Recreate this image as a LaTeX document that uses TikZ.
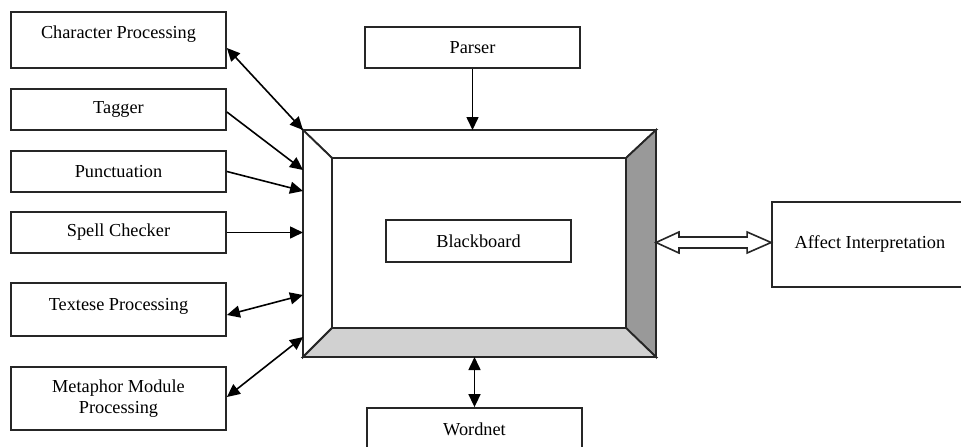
\documentclass[tikz,border=0pt]{standalone}
\usepackage{fontspec}
\setmainfont{Liberation Serif}
\usetikzlibrary{arrows.meta,calc}
\begin{document}
\begin{tikzpicture}[x=1pt,y=1pt,
  box/.style={draw=black!85, line width=1.8pt, minimum width=215, inner sep=0pt, align=center, font=\fontsize{18.3}{21}\selectfont, fill=white},
  conn/.style={line width=1.6pt, draw=black},
  tip/.style={-{Triangle[length=13pt,width=12pt]}},
  dtip/.style={{Triangle[length=13pt,width=12pt]}-{Triangle[length=13pt,width=12pt]}},
  bevel/.style={draw=black!85, line width=1.8pt, line join=miter}]
\useasboundingbox (0,0) rectangle (961,-447);
\clip (0,0) rectangle (961,-447);
\fill[white] (0,0) rectangle (961,-447);

% left column
\node[box, minimum height=56, text height=13, text depth=17] (cp) at (118.5,-40) {Character Processing};
\node[box, minimum height=41] (tg) at (118.5,-109.5) {Tagger};
\node[box, minimum height=41] (pu) at (118.5,-171.5) {Punctuation};
\node[box, minimum height=41] (sc) at (118.5,-232.5) {Spell Checker};
\node[box, minimum height=53, text height=13, text depth=12] (te) at (118.5,-309.5) {Textese Processing};
\node[box, minimum height=63] (mm) at (118.5,-398.5) {Metaphor Module\\Processing};

% top / bottom / right
\node[box, minimum height=41] (pa) at (472.5,-47.5) {Parser};
\node[box, minimum height=42] (wn) at (474.5,-429) {Wordnet};
\node[box, minimum width=196, minimum height=85] (ai) at (870,-244.5) {Affect Interpretation};

% blackboard frame
\node[minimum width=353, minimum height=227, inner sep=0pt, outer sep=0pt] (bbo) at (479.5,-243.5) {};
\node[minimum width=294, minimum height=170, inner sep=0pt, outer sep=0pt] (bbi) at (479,-243) {};
\filldraw[bevel, fill=white] (bbo.north west) -- (bbo.north east) -- (bbi.north east) -- (bbi.north west) -- cycle;
\filldraw[bevel, fill=white] (bbo.north west) -- (bbi.north west) -- (bbi.south west) -- (bbo.south west) -- cycle;
\filldraw[bevel, fill=black!40] (bbo.north east) -- (bbo.south east) -- (bbi.south east) -- (bbi.north east) -- cycle;
\filldraw[bevel, fill=black!18] (bbo.south west) -- (bbo.south east) -- (bbi.south east) -- (bbi.south west) -- cycle;
\draw[bevel] (bbi.north west) rectangle (bbi.south east);
\node[box, minimum width=185, minimum height=42] (bb) at (478.5,-241) {Blackboard};

% connectors
\draw[conn, dtip] ([yshift=-8]cp.east) -- (bbo.north west);
\draw[conn, tip] ([yshift=-2.5]tg.east) -- ([yshift=-40]bbo.north west);
\draw[conn, tip] (pu.east) -- ([yshift=-61]bbo.north west);
\draw[conn, tip] (sc.east) -- (sc.east -| bbo.west);
\draw[conn, dtip] ([yshift=-5.5]te.east) -- ([yshift=-165]bbo.north west);
\draw[conn, dtip] ([yshift=1.5]mm.east) -- ([yshift=20]bbo.south west);
\draw[conn, tip] (pa.south) -- (pa.south |- bbo.north);
\draw[conn, dtip] (wn.north |- bbo.south) -- (wn.north);

% hollow double arrow
\filldraw[fill=white, draw=black!85, line width=1.6pt, line join=miter]
  ([yshift=1]bbo.east) -- ++(23,10.5) -- ++(0,-5) -- ($(ai.west)+(-24,7.5)$) -- ++(0,5)
  -- ([yshift=2]ai.west) -- ++(-24,-10.5) -- ++(0,5) -- ($(bbo.east)+(23,-4.5)$) -- ++(0,-5) -- cycle;
\end{tikzpicture}
\end{document}
